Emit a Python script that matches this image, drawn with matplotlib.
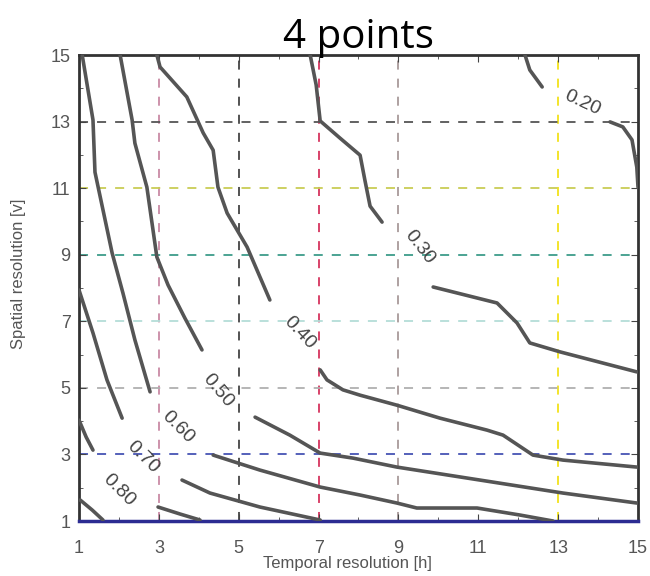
import numpy as np
import matplotlib
matplotlib.use("Agg")
import matplotlib.pyplot as plt

# contour lines (x = temporal [h], y = spatial [v])
# each level is split where the label sits
c020_x = [[12.17, 12.29, 12.60], [14.30, 14.62, 14.85, 14.97, 15.0]]
c020_y = [[15.0, 14.55, 14.04], [12.99, 12.84, 12.45, 11.63, 11.03]]

c030_x = [[6.79, 6.94, 7.04, 7.54, 8.04, 8.16, 8.29, 8.59],
          [9.87, 11.47, 11.97, 12.29, 13.05, 14.97]]
c030_y = [[15.0, 14.10, 13.02, 12.50, 11.99, 11.24, 10.46, 9.98],
          [8.03, 7.55, 6.95, 6.35, 6.08, 5.48]]

c040_x = [[2.95, 3.03, 3.70, 4.11, 4.36, 4.48, 4.71, 5.21, 5.78],
          [7.04, 7.21, 7.61, 8.04, 8.96, 10.04, 11.22, 11.62, 12.37, 13.12, 14.97]]
c040_y = [[15.0, 14.64, 13.74, 12.66, 12.14, 11.03, 10.25, 9.23, 7.64],
          [5.54, 5.24, 4.94, 4.78, 4.48, 4.09, 3.73, 3.58, 2.98, 2.83, 2.62]]

c050_x = [[2.03, 2.33, 2.40, 2.70, 2.95, 3.23, 3.65, 4.08],
          [5.41, 6.28, 7.04, 7.86, 8.96, 11.04, 13.12, 14.97]]
c050_y = [[15.0, 13.05, 12.35, 11.03, 8.93, 8.09, 7.10, 6.14],
          [4.12, 3.58, 3.04, 2.89, 2.62, 2.23, 1.84, 1.54]]

c060_x = [[1.08, 1.35, 1.40, 1.83, 2.10, 2.40, 2.78],
          [4.36, 5.53, 7.04, 8.04, 8.96, 9.46, 10.97, 12.04, 12.87]]
c060_y = [[15.0, 13.05, 11.48, 9.05, 7.85, 6.44, 4.88],
          [2.98, 2.53, 2.02, 1.78, 1.54, 1.39, 1.39, 1.18, 1.0]]

c070_x = [[1.0, 1.35, 1.70, 2.08], [3.58, 4.28, 5.53, 7.04]]
c070_y = [[7.94, 6.65, 5.24, 4.09], [2.23, 1.84, 1.42, 1.03]]

c080_x = [[1.0, 1.18, 1.35], [2.98, 3.53, 4.03]]
c080_y = [[4.03, 3.52, 3.13], [1.42, 1.21, 1.03]]

c090_x = [[1.03, 1.33, 1.60]]
c090_y = [[1.63, 1.33, 1.03]]

levels = ["0.20", "0.30", "0.40", "0.50", "0.60", "0.70", "0.80"]
lab_x = [13.6, 9.54, 6.53, 4.48, 3.48, 2.60, 2.00]
lab_y = [13.56, 9.23, 6.65, 4.93, 3.82, 2.92, 1.93]
lab_rot = [-25, -52, -47, -50, -45, -45, -45]

# dashed guide lines
vx = [3, 5, 7, 9, 13]
vcol = ["#c98aa5", "#444444", "#d6345e", "#a89a9a", "#f2e21a"]
hy = [13, 11, 9, 7, 5, 3]
hcol = ["#555555", "#c9cd55", "#3d9c8a", "#b4ddd8", "#b0b0b0", "#4654b4"]

ticks = [1, 3, 5, 7, 9, 11, 13, 15]

fig = plt.figure(figsize=(6.5, 5.76), dpi=100)
ax = fig.add_axes([79/650, 55/576, (638-79)/650, (521-55)/576])

for x, c in zip(vx, vcol):
    ax.axvline(x, color=c, lw=1.3, linestyle=(0, (5, 5)), zorder=1)
for y, c in zip(hy, hcol):
    ax.axhline(y, color=c, lw=1.3, linestyle=(0, (5, 5)), zorder=1)

allx = [c020_x, c030_x, c040_x, c050_x, c060_x, c070_x, c080_x, c090_x]
ally = [c020_y, c030_y, c040_y, c050_y, c060_y, c070_y, c080_y, c090_y]
for xs, ys in zip(allx, ally):
    for sx, sy in zip(xs, ys):
        ax.plot(sx, sy, color="#555555", lw=2.6, solid_capstyle="round",
                solid_joinstyle="round", zorder=3)

for t, x, y, r in zip(levels, lab_x, lab_y, lab_rot):
    ax.text(x, y, t, rotation=r, ha="center", va="center", fontsize=14,
            color="#444444", family="Liberation Sans", zorder=4)

ax.set_xlim(1, 15)
ax.set_ylim(1, 15)
ax.set_xticks(ticks)
ax.set_yticks(ticks)
ax.set_xticks(range(2, 15, 2), minor=True)
ax.set_yticks(range(2, 15, 2), minor=True)
ax.tick_params(which="both", direction="in", top=True, right=True, colors="#444444",
               labelcolor="#555555", labelsize=13)
ax.tick_params(which="major", length=5)
ax.tick_params(which="minor", length=3)
ax.tick_params(axis="x", which="major", pad=14)
ax.tick_params(axis="y", which="major", pad=6)
for lab in ax.get_xticklabels() + ax.get_yticklabels():
    lab.set_family("Liberation Sans")

for s in ["left", "top", "right"]:
    ax.spines[s].set_color("#333333")
    ax.spines[s].set_linewidth(2.0)
ax.spines["bottom"].set_color("#2c2c92")
ax.spines["bottom"].set_linewidth(2.5)

ax.set_xlabel("Temporal resolution [h]", fontsize=12, color="#555555",
              family="Liberation Sans")
ax.set_ylabel("Spatial resolution [v]", fontsize=12, color="#555555",
              family="Liberation Sans")
ax.xaxis.set_label_coords(0.48, -0.075)
ax.yaxis.set_label_coords(-0.095, 0.53)

fig.text(0.551, 1 - 48/576, "4 points", ha="center", va="baseline", fontsize=29,
         family="Open Sans", color="black")

fig.savefig("out.png", dpi=100, facecolor="white")
